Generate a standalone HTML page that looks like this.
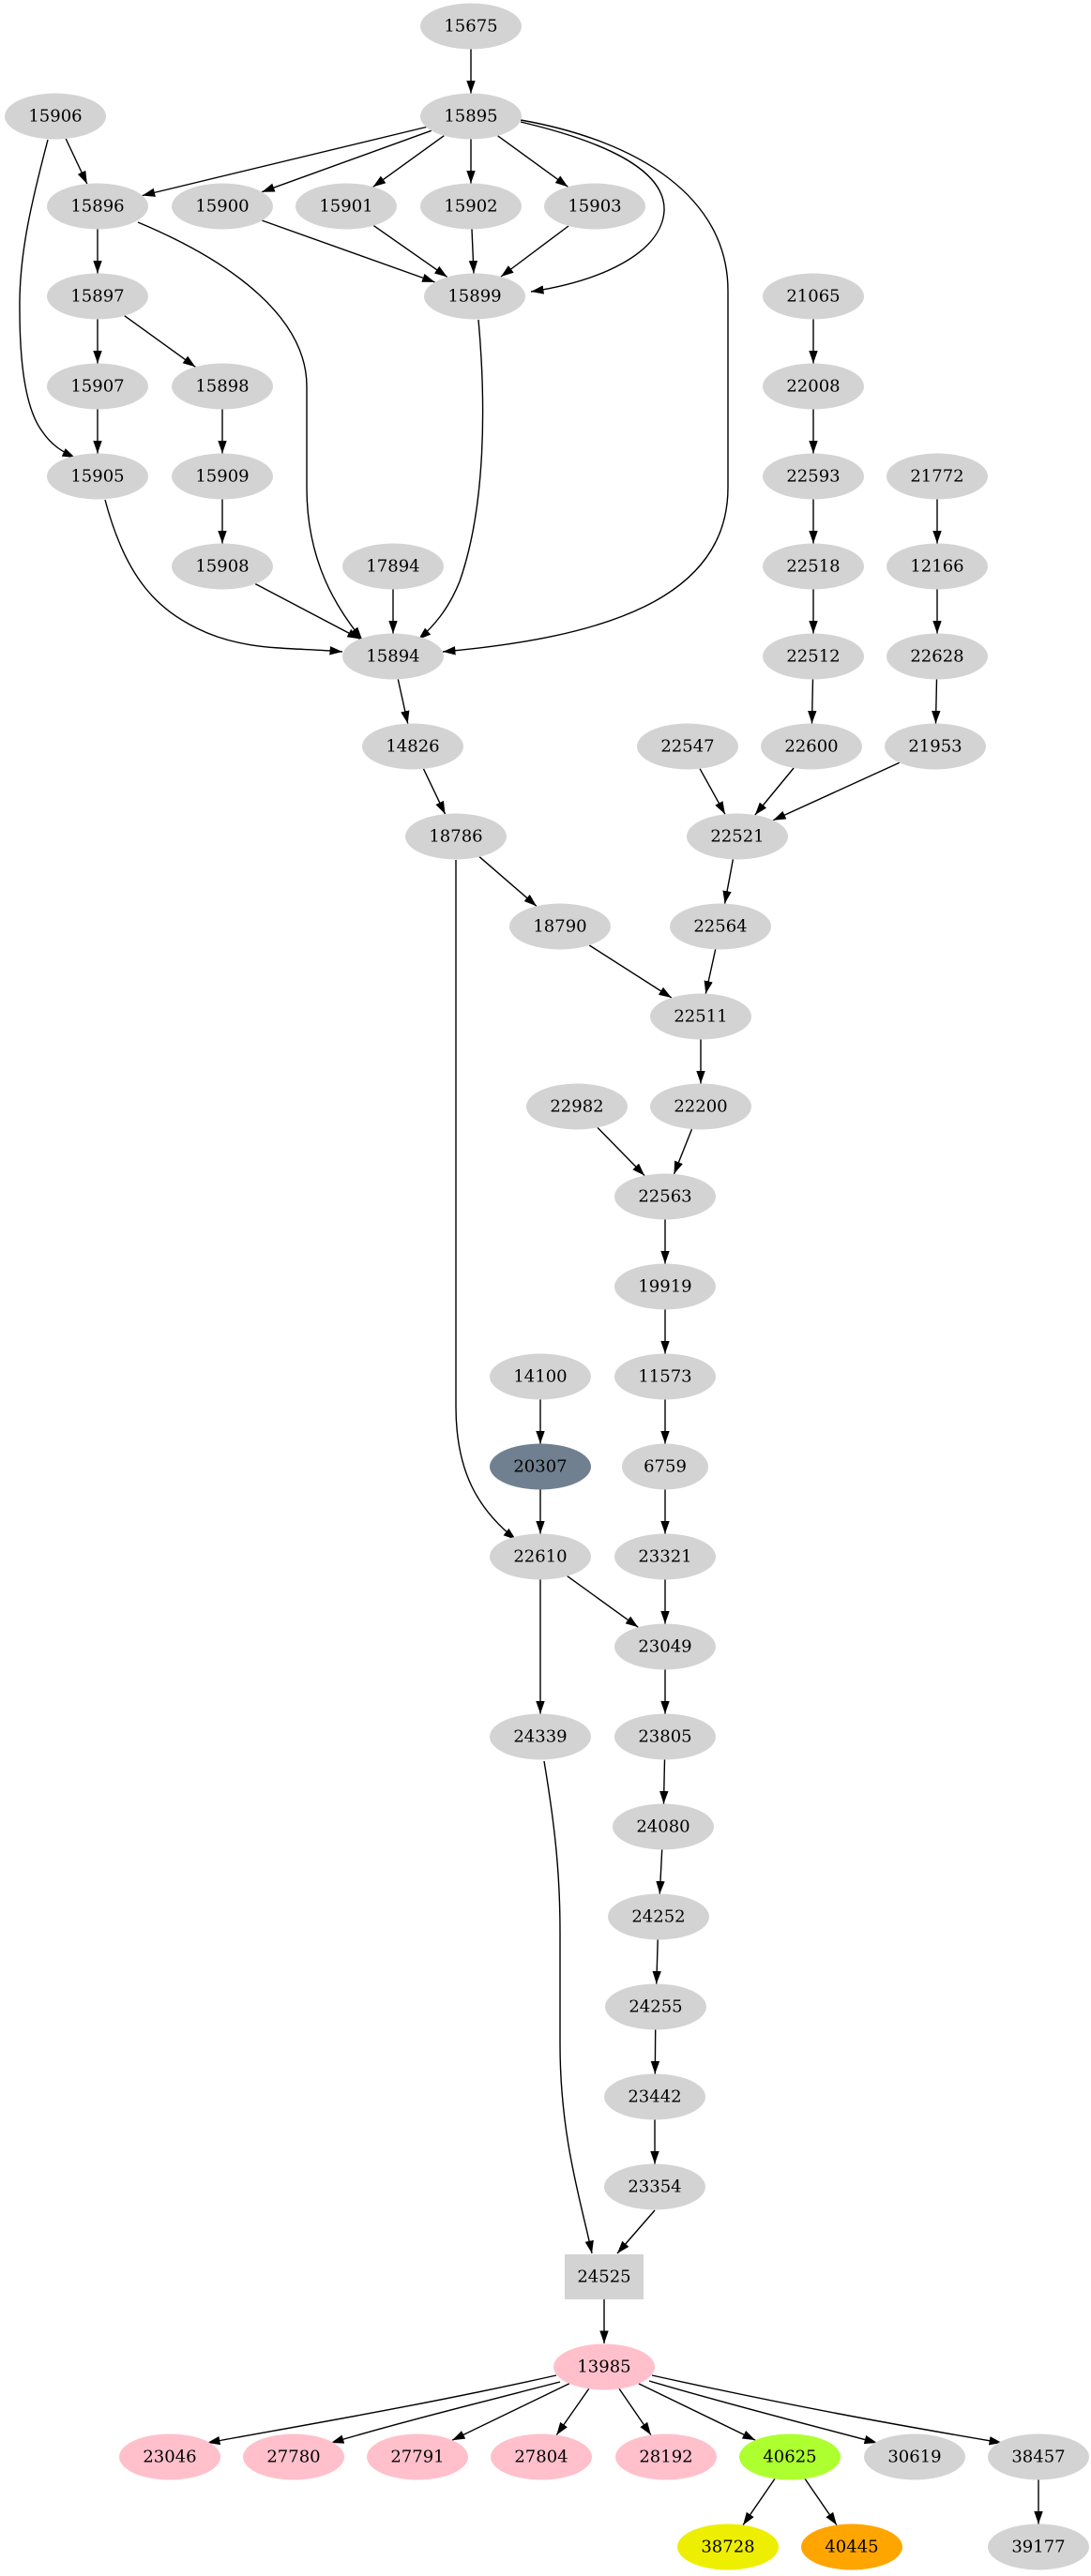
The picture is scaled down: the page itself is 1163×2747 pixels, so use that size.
<!DOCTYPE html>
<html><head><meta charset="utf-8"><style>
html,body{margin:0;padding:0;background:#fff;}
svg{display:block;}
text{font-family:"DejaVu Serif","Liberation Serif",serif;font-size:18px;text-anchor:middle;dominant-baseline:central;fill:#000;}
</style></head><body>
<svg id="g" width="1163" height="2747" viewBox="0 0 1163 2747" xmlns="http://www.w3.org/2000/svg">
<defs><marker id="a" markerUnits="userSpaceOnUse" markerWidth="14" markerHeight="10" refX="13.5" refY="4.7" orient="auto"><path d="M0,0 L13.5,4.7 L0,9.4 z" fill="#000"/></marker></defs>
<g id="edges" fill="none" stroke="#000" stroke-width="1.4">
<path marker-end="url(#a)" d="M51,149 C35,210 20,270 21,330 C21,400 30,440 45,460 C55,475 67,482 80,488"/>
<path marker-end="url(#a)" d="M147,237 C250,280 327,340 327,412 L327,520 C327,600 360,650 386,682"/>
<path marker-end="url(#a)" d="M555,130 C640,150 710,180 708,225 C705,270 640,300 566,311"/>
<path marker-end="url(#a)" d="M555,128 C680,150 776,210 776,310 L776,520 C776,640 640,680 472,695"/>
<path marker-end="url(#a)" d="M510,341 C518,430 518,540 490,620 C478,650 462,668 446,682"/>
<path marker-end="url(#a)" d="M112,533 C135,620 170,650 210,670 C260,695 310,690 365,695"/>
<path marker-end="url(#a)" d="M486,917 L486,1500 C486,1570 510,1610 550,1642"/>
<path marker-end="url(#a)" d="M580,1878 C592,1950 597,2000 597,2060 L597,2180 C597,2280 620,2350 631,2403"/>
<path marker-end="url(#a)" d="M698,2357 L658,2403"/>
<path marker-end="url(#a)" d="M644,2452 L644,2499"/>
<path marker-end="url(#a)" d="M593,2533 C450,2565 330,2585 221,2605"/>
<path marker-end="url(#a)" d="M597,2540 C500,2565 420,2585 353,2605"/>
<path marker-end="url(#a)" d="M692,2539 C780,2565 860,2585 935,2605"/>
<path marker-end="url(#a)" d="M695,2533 C840,2565 950,2585 1068,2605"/>
</g>
<g id="nodes">
<ellipse cx="502" cy="28" rx="54" ry="24.5" fill="#d3d3d3"/><text x="502" y="28">15675</text>
<ellipse cx="59" cy="124" rx="54" ry="24.5" fill="#d3d3d3"/><text x="59" y="124">15906</text>
<ellipse cx="502" cy="124" rx="54" ry="24.5" fill="#d3d3d3"/><text x="502" y="124">15895</text>
<ellipse cx="104" cy="220" rx="54" ry="24.5" fill="#d3d3d3"/><text x="104" y="220">15896</text>
<ellipse cx="237" cy="220" rx="54" ry="24.5" fill="#d3d3d3"/><text x="237" y="220">15900</text>
<ellipse cx="369" cy="220" rx="54" ry="24.5" fill="#d3d3d3"/><text x="369" y="220">15901</text>
<ellipse cx="502" cy="220" rx="54" ry="24.5" fill="#d3d3d3"/><text x="502" y="220">15902</text>
<ellipse cx="634" cy="220" rx="54" ry="24.5" fill="#d3d3d3"/><text x="634" y="220">15903</text>
<ellipse cx="104" cy="316" rx="54" ry="24.5" fill="#d3d3d3"/><text x="104" y="316">15897</text>
<ellipse cx="506" cy="316" rx="54" ry="24.5" fill="#d3d3d3"/><text x="506" y="316">15899</text>
<ellipse cx="867" cy="316" rx="54" ry="24.5" fill="#d3d3d3"/><text x="867" y="316">21065</text>
<ellipse cx="104" cy="412" rx="54" ry="24.5" fill="#d3d3d3"/><text x="104" y="412">15907</text>
<ellipse cx="237" cy="412" rx="54" ry="24.5" fill="#d3d3d3"/><text x="237" y="412">15898</text>
<ellipse cx="867" cy="412" rx="54" ry="24.5" fill="#d3d3d3"/><text x="867" y="412">22008</text>
<ellipse cx="104" cy="508" rx="54" ry="24.5" fill="#d3d3d3"/><text x="104" y="508">15905</text>
<ellipse cx="237" cy="508" rx="54" ry="24.5" fill="#d3d3d3"/><text x="237" y="508">15909</text>
<ellipse cx="867" cy="508" rx="54" ry="24.5" fill="#d3d3d3"/><text x="867" y="508">22593</text>
<ellipse cx="999" cy="508" rx="54" ry="24.5" fill="#d3d3d3"/><text x="999" y="508">21772</text>
<ellipse cx="237" cy="604" rx="54" ry="24.5" fill="#d3d3d3"/><text x="237" y="604">15908</text>
<ellipse cx="419" cy="604" rx="54" ry="24.5" fill="#d3d3d3"/><text x="419" y="604">17894</text>
<ellipse cx="867" cy="604" rx="54" ry="24.5" fill="#d3d3d3"/><text x="867" y="604">22518</text>
<ellipse cx="999" cy="604" rx="54" ry="24.5" fill="#d3d3d3"/><text x="999" y="604">12166</text>
<ellipse cx="419" cy="700" rx="54" ry="24.5" fill="#d3d3d3"/><text x="419" y="700">15894</text>
<ellipse cx="867" cy="700" rx="54" ry="24.5" fill="#d3d3d3"/><text x="867" y="700">22512</text>
<ellipse cx="999" cy="700" rx="54" ry="24.5" fill="#d3d3d3"/><text x="999" y="700">22628</text>
<ellipse cx="440" cy="796" rx="54" ry="24.5" fill="#d3d3d3"/><text x="440" y="796">14826</text>
<ellipse cx="733" cy="796" rx="54" ry="24.5" fill="#d3d3d3"/><text x="733" y="796">22547</text>
<ellipse cx="865" cy="796" rx="54" ry="24.5" fill="#d3d3d3"/><text x="865" y="796">22600</text>
<ellipse cx="997" cy="796" rx="54" ry="24.5" fill="#d3d3d3"/><text x="997" y="796">21953</text>
<ellipse cx="486" cy="892" rx="54" ry="24.5" fill="#d3d3d3"/><text x="486" y="892">18786</text>
<ellipse cx="786" cy="892" rx="54" ry="24.5" fill="#d3d3d3"/><text x="786" y="892">22521</text>
<ellipse cx="597" cy="988" rx="54" ry="24.5" fill="#d3d3d3"/><text x="597" y="988">18790</text>
<ellipse cx="768" cy="988" rx="54" ry="24.5" fill="#d3d3d3"/><text x="768" y="988">22564</text>
<ellipse cx="747" cy="1084" rx="54" ry="24.5" fill="#d3d3d3"/><text x="747" y="1084">22511</text>
<ellipse cx="615" cy="1180" rx="54" ry="24.5" fill="#d3d3d3"/><text x="615" y="1180">22982</text>
<ellipse cx="747" cy="1180" rx="54" ry="24.5" fill="#d3d3d3"/><text x="747" y="1180">22200</text>
<ellipse cx="709" cy="1276" rx="54" ry="24.5" fill="#d3d3d3"/><text x="709" y="1276">22563</text>
<ellipse cx="709" cy="1372" rx="54" ry="24.5" fill="#d3d3d3"/><text x="709" y="1372">19919</text>
<ellipse cx="576" cy="1468" rx="54" ry="24.5" fill="#d3d3d3"/><text x="576" y="1468">14100</text>
<ellipse cx="709" cy="1468" rx="54" ry="24.5" fill="#d3d3d3"/><text x="709" y="1468">11573</text>
<ellipse cx="576" cy="1564" rx="54" ry="24.5" fill="#708090"/><text x="576" y="1564">20307</text>
<ellipse cx="709" cy="1564" rx="46" ry="24.5" fill="#d3d3d3"/><text x="709" y="1564">6759</text>
<ellipse cx="576" cy="1660" rx="54" ry="24.5" fill="#d3d3d3"/><text x="576" y="1660">22610</text>
<ellipse cx="709" cy="1660" rx="54" ry="24.5" fill="#d3d3d3"/><text x="709" y="1660">23321</text>
<ellipse cx="709" cy="1756" rx="54" ry="24.5" fill="#d3d3d3"/><text x="709" y="1756">23049</text>
<ellipse cx="576" cy="1852" rx="54" ry="24.5" fill="#d3d3d3"/><text x="576" y="1852">24339</text>
<ellipse cx="709" cy="1852" rx="54" ry="24.5" fill="#d3d3d3"/><text x="709" y="1852">23805</text>
<ellipse cx="707" cy="1948" rx="54" ry="24.5" fill="#d3d3d3"/><text x="707" y="1948">24080</text>
<ellipse cx="702" cy="2044" rx="54" ry="24.5" fill="#d3d3d3"/><text x="702" y="2044">24252</text>
<ellipse cx="699" cy="2140" rx="54" ry="24.5" fill="#d3d3d3"/><text x="699" y="2140">24255</text>
<ellipse cx="698" cy="2236" rx="54" ry="24.5" fill="#d3d3d3"/><text x="698" y="2236">23442</text>
<ellipse cx="698" cy="2332" rx="54" ry="24.5" fill="#d3d3d3"/><text x="698" y="2332">23354</text>
<rect x="602" y="2404" width="84" height="48" fill="#d3d3d3"/><text x="644" y="2428">24525</text>
<ellipse cx="644" cy="2524" rx="54" ry="24.5" fill="#ffc0cb"/><text x="644" y="2524">13985</text>
<ellipse cx="181" cy="2620" rx="54" ry="24.5" fill="#ffc0cb"/><text x="181" y="2620">23046</text>
<ellipse cx="313" cy="2620" rx="54" ry="24.5" fill="#ffc0cb"/><text x="313" y="2620">27780</text>
<ellipse cx="445" cy="2620" rx="54" ry="24.5" fill="#ffc0cb"/><text x="445" y="2620">27791</text>
<ellipse cx="577" cy="2620" rx="54" ry="24.5" fill="#ffc0cb"/><text x="577" y="2620">27804</text>
<ellipse cx="710" cy="2620" rx="54" ry="24.5" fill="#ffc0cb"/><text x="710" y="2620">28192</text>
<ellipse cx="842" cy="2620" rx="54" ry="24.5" fill="#adff2f"/><text x="842" y="2620">40625</text>
<ellipse cx="975" cy="2620" rx="54" ry="24.5" fill="#d3d3d3"/><text x="975" y="2620">30619</text>
<ellipse cx="1107" cy="2620" rx="54" ry="24.5" fill="#d3d3d3"/><text x="1107" y="2620">38457</text>
<ellipse cx="776" cy="2716" rx="54" ry="24.5" fill="#eeee00"/><text x="776" y="2716">38728</text>
<ellipse cx="908" cy="2716" rx="54" ry="24.5" fill="#ffa500"/><text x="908" y="2716">40445</text>
<ellipse cx="1107" cy="2716" rx="54" ry="24.5" fill="#d3d3d3"/><text x="1107" y="2716">39177</text>
</g>
</svg>
<script>
(function(){
var N={};
document.querySelectorAll('#nodes ellipse').forEach(function(e){
  var t=e.nextElementSibling.textContent;
  N[t]=[+e.getAttribute('cx'),+e.getAttribute('cy'),+e.getAttribute('rx'),+e.getAttribute('ry')];
});
var E=[["15675","15895"],["15906","15896"],["15895","15896"],["15895","15900"],["15895","15901"],["15895","15902"],["15895","15903"],["15896","15897"],["15900","15899"],["15901","15899"],["15902","15899"],["15903","15899"],["15897","15907"],["15897","15898"],["15907","15905"],["15898","15909"],["15909","15908"],["15908","15894"],["17894","15894"],["15894","14826"],["14826","18786"],["18786","18790"],["18790","22511"],["21065","22008"],["22008","22593"],["22593","22518"],["22518","22512"],["22512","22600"],["21772","12166"],["12166","22628"],["22628","21953"],["22547","22521"],["22600","22521"],["21953","22521"],["22521","22564"],["22564","22511"],["22511","22200"],["22982","22563"],["22200","22563"],["22563","19919"],["19919","11573"],["11573","6759"],["6759","23321"],["23321","23049"],["14100","20307"],["20307","22610"],["22610","23049"],["22610","24339"],["23049","23805"],["23805","24080"],["24080","24252"],["24252","24255"],["24255","23442"],["23442","23354"],["13985","27791"],["13985","27804"],["13985","28192"],["13985","40625"],["40625","38728"],["40625","40445"],["38457","39177"]];
var g=document.getElementById('edges');
function clip(n,dx,dy){var t=1/Math.sqrt(Math.pow(dx/n[2],2)+Math.pow(dy/n[3],2));return [n[0]+dx*t,n[1]+dy*t];}
E.forEach(function(p){
  var a=N[p[0]],b=N[p[1]];var dx=b[0]-a[0],dy=b[1]-a[1];
  var s=clip(a,dx,dy),e=clip(b,-dx,-dy);
  var el=document.createElementNS('http://www.w3.org/2000/svg','path');
  el.setAttribute('d','M'+s[0].toFixed(1)+','+s[1].toFixed(1)+' L'+e[0].toFixed(1)+','+e[1].toFixed(1));
  el.setAttribute('marker-end','url(#a)');
  g.appendChild(el);
});
})();
</script>
</body></html>
